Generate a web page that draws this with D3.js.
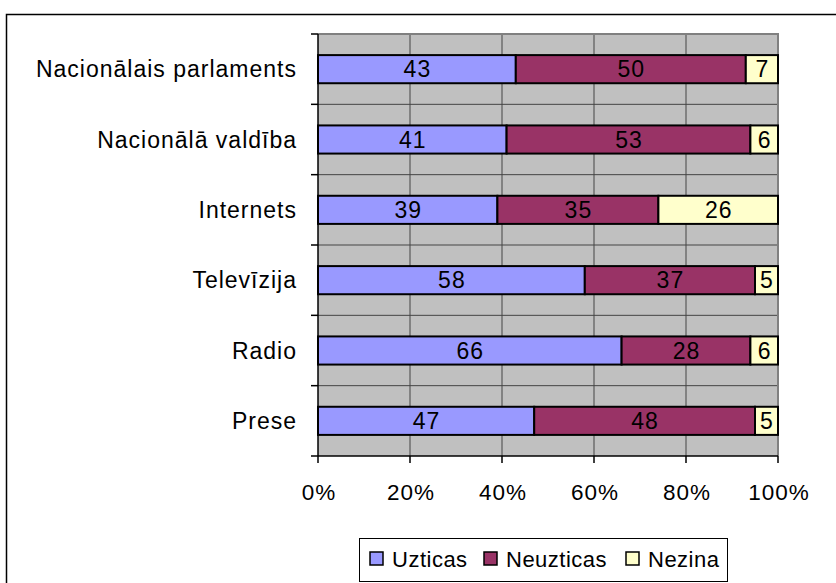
<!DOCTYPE html>
<html>
<head>
<meta charset="utf-8">
<script src="https://cdn.jsdelivr.net/npm/d3@7"></script>
<style>
  body { margin: 0; background: #fff; }
  text { font-family: "Liberation Sans", Arial, sans-serif; fill: #000; }
</style>
</head>
<body>
<div id="chart"></div>
<script>
const categories = ["Nacionālais parlaments", "Nacionālā valdība", "Internets", "Televīzija", "Radio", "Prese"];
const seriesNames = ["Uzticas", "Neuzticas", "Nezina"];
const uzticas = [43, 41, 39, 58, 66, 47];
const neuzticas = [50, 53, 35, 37, 28, 48];
const nezina = [7, 6, 26, 5, 6, 5];
const xTicks = [0, 20, 40, 60, 80, 100];
const colors = ["#9999FF", "#993366", "#FFFFCC"];

function drawChart(){
    const width = 836, height = 583;
    const svg = d3.select("#chart").append("svg")
        .attr("width", width).attr("height", height);

    // outer frame
    svg.append("rect")
        .attr("x", 6.5).attr("y", 14.5)
        .attr("width", 900).attr("height", 900)
        .attr("fill", "none").attr("stroke", "#000").attr("stroke-width", 1.5);

    const left = 318, right = 778, top = 34, bottom = 456;

    const x = d3.scaleLinear().domain([0, 100]).range([left, right]);
    const y = d3.scaleBand().domain(categories).range([top, bottom])
        .paddingInner(0.6).paddingOuter(0.3);
    const yb = d3.scaleBand().domain(categories).range([top, bottom]);

    svg.append("rect")
        .attr("x", left).attr("y", top)
        .attr("width", right - left).attr("height", bottom - top)
        .attr("fill", "#C0C0C0");

    // vertical gridlines
    svg.append("g").selectAll("line")
        .data(xTicks.slice(1, -1))
        .enter().append("line")
        .attr("x1", d => x(d)).attr("x2", d => x(d))
        .attr("y1", top).attr("y2", bottom)
        .attr("stroke", "#444").attr("stroke-width", 1);

    // horizontal lines at category boundaries
    svg.append("g").selectAll("line")
        .data(categories.slice(1))
        .enter().append("line")
        .attr("x1", left).attr("x2", right)
        .attr("y1", d => yb(d)).attr("y2", d => yb(d))
        .attr("stroke", "#444").attr("stroke-width", 1);

    // plot border top/right
    svg.append("path")
        .attr("d", `M${left},${top}H${right}V${bottom}`)
        .attr("fill", "none").attr("stroke", "#808080").attr("stroke-width", 2);

    const rows = categories.map((c, i) => ({cat: c, Uzticas: uzticas[i], Neuzticas: neuzticas[i], Nezina: nezina[i]}));
    const stacked = d3.stack().keys(seriesNames)(rows);

    stacked.forEach((layer, k) => {
        const g = svg.append("g");
        g.selectAll("rect")
            .data(layer)
            .enter().append("rect")
            .attr("x", d => x(d[0]))
            .attr("y", d => y(d.data.cat))
            .attr("width", d => x(d[1]) - x(d[0]))
            .attr("height", y.bandwidth())
            .attr("fill", colors[k])
            .attr("stroke", "#000").attr("stroke-width", 2);
        g.selectAll("text")
            .data(layer)
            .enter().append("text")
            .attr("x", d => (x(d[0]) + x(d[1])) / 2 + 0.5)
            .attr("y", d => y(d.data.cat) + y.bandwidth() / 2)
            .attr("dy", "0.36em")
            .attr("text-anchor", "middle")
            .style("font-size", "23px")
            .style("letter-spacing", "1px")
            .text(d => d[1] - d[0]);
    });

    // left axis
    const yAxis = svg.append("g");
    yAxis.append("line")
        .attr("x1", left).attr("x2", left)
        .attr("y1", top).attr("y2", bottom)
        .attr("stroke", "#000").attr("stroke-width", 1.5);
    yAxis.selectAll(".tk")
        .data(categories.concat(["end"]))
        .enter().append("line")
        .attr("x1", left - 7).attr("x2", left)
        .attr("y1", (d, i) => i < categories.length ? yb(d) : bottom)
        .attr("y2", (d, i) => i < categories.length ? yb(d) : bottom)
        .attr("stroke", "#000").attr("stroke-width", 1.5);
    yAxis.selectAll("text")
        .data(categories)
        .enter().append("text")
        .attr("x", left - 21)
        .attr("y", d => yb(d) + yb.bandwidth() / 2)
        .attr("dy", "0.36em")
        .attr("text-anchor", "end")
        .style("font-size", "23px")
        .style("letter-spacing", "1px")
        .text(d => d);

    // bottom axis
    const xAxis = svg.append("g");
    xAxis.append("line")
        .attr("x1", left).attr("x2", right)
        .attr("y1", bottom).attr("y2", bottom)
        .attr("stroke", "#000").attr("stroke-width", 1.5);
    xAxis.selectAll(".tk")
        .data(xTicks)
        .enter().append("line")
        .attr("x1", d => x(d)).attr("x2", d => x(d))
        .attr("y1", bottom).attr("y2", bottom + 7)
        .attr("stroke", "#000").attr("stroke-width", 1.5);
    xAxis.selectAll("text")
        .data(xTicks)
        .enter().append("text")
        .attr("x", d => x(d) + 1)
        .attr("y", 500)
        .attr("text-anchor", "middle")
        .style("font-size", "22.5px")
        .style("letter-spacing", "1px")
        .text(d => d + "%");

    // legend
    const lg = svg.append("g");
    lg.append("rect")
        .attr("x", 359.5).attr("y", 538.5)
        .attr("width", 368).attr("height", 43)
        .attr("fill", "#fff").attr("stroke", "#000").attr("stroke-width", 1);
    const lx = [370, 484, 626];
    seriesNames.forEach((s, i) => {
        lg.append("rect")
            .attr("x", lx[i]).attr("y", 552)
            .attr("width", 13).attr("height", 13)
            .attr("fill", colors[i]).attr("stroke", "#000").attr("stroke-width", 1.5);
        lg.append("text")
            .attr("x", lx[i] + 22).attr("y", 567)
            .style("font-size", "22px")
            .style("letter-spacing", "0.5px")
            .text(s);
    });
}
drawChart();
</script>
</body>
</html>
